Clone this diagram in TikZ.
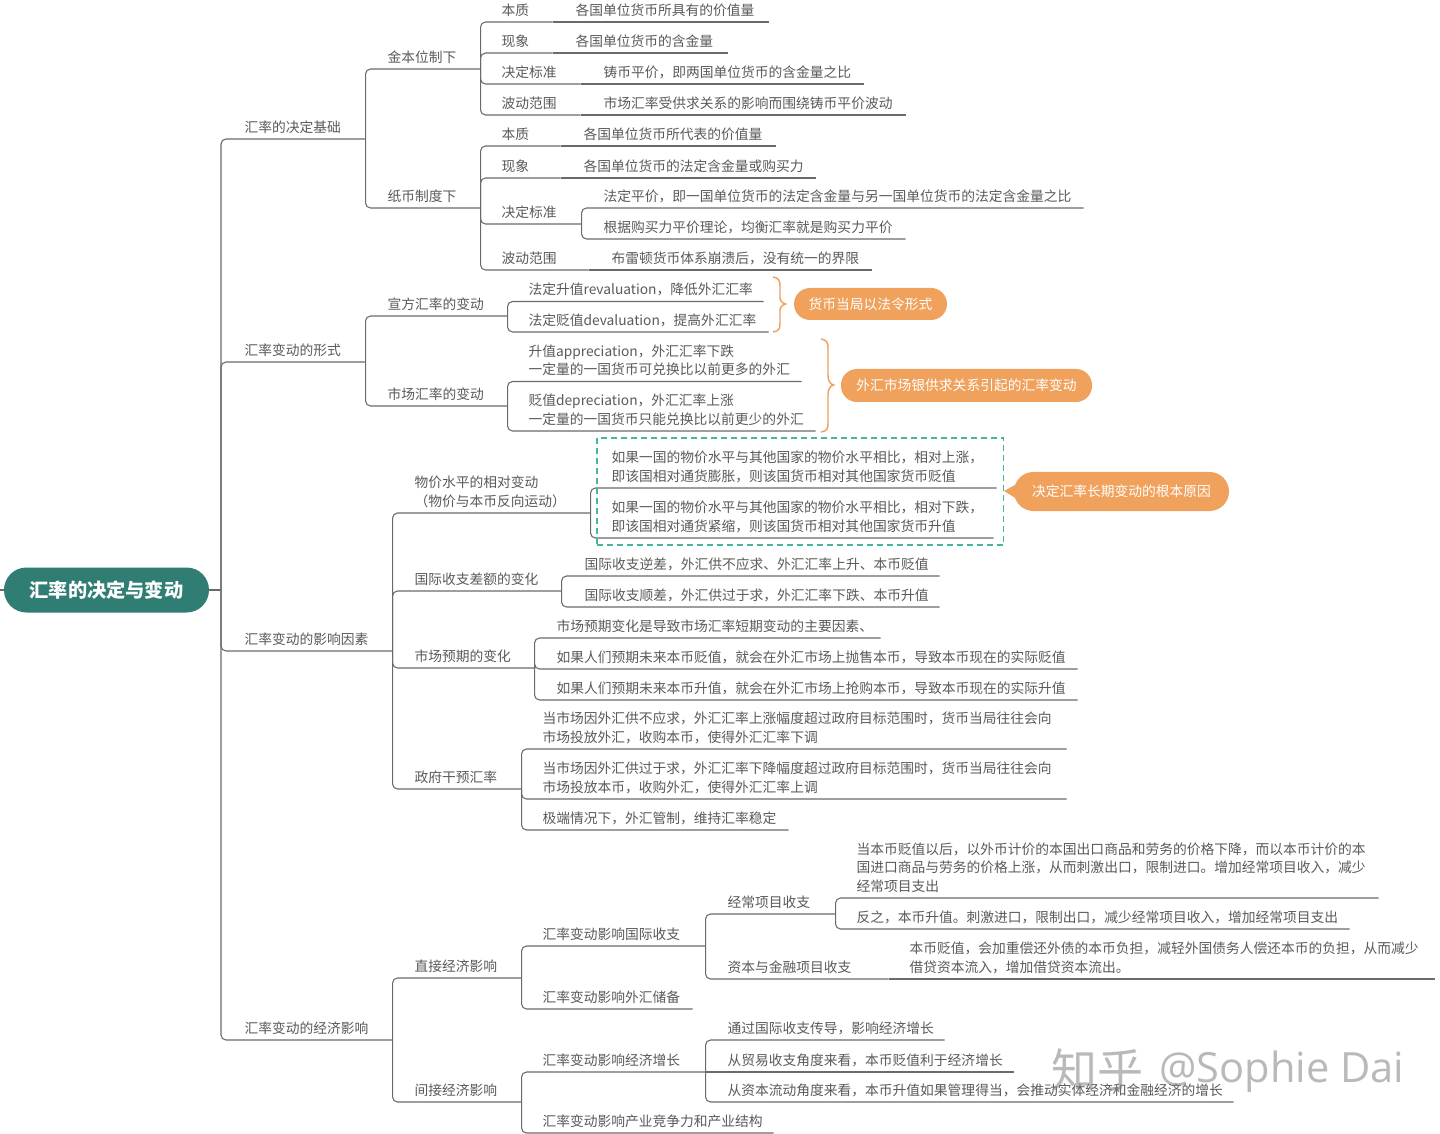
\documentclass[tikz,border=0pt]{standalone}
\usepackage{fontspec}
\setmainfont{Noto Sans CJK SC}
\newfontfamily\wmlatin{Open Sans}
\definecolor{ink}{HTML}{5A5A5A}
\definecolor{wire}{HTML}{6A6A6A}
\definecolor{rootgreen}{HTML}{2F7D73}
\definecolor{callout}{HTML}{F0A15C}
\definecolor{dashteal}{HTML}{45B5A0}
\tikzset{
  topic/.style={inner sep=0pt,anchor=south west,text=ink,text depth=5pt,
    font=\fontsize{10.32pt}{13.9pt}\selectfont},
  conn/.style={draw=wire,line width=0.8pt,rounded corners=3.75pt},
  pill/.style={fill=callout,text=white,rounded corners=12pt,inner sep=0pt,
    font=\fontsize{10.32pt}{13.9pt}\selectfont},
  brace/.style={draw=callout,line width=1.1pt},
  rootnode/.style={fill=rootgreen,text=white,rounded corners=16.8pt,inner sep=0pt,
    minimum width=153.75pt,minimum height=33.75pt,
    font=\fontsize{14.4pt}{16pt}\selectfont\bfseries},
  dashbox/.style={draw=dashteal,line width=1.1pt,dash pattern=on 4.5pt off 3pt,inner sep=0pt},
  wmark/.style={text=gray,opacity=0.55,inner sep=0pt}
}
% \topic{name}{x start}{x end}{y of rule}{x of text}{text}
\newcommand{\topic}[6]{%
  \pgfmathsetlengthmacro\mmW{(#3-#2)*0.75}%
  \pgfmathsetlengthmacro\mmI{(#5-#2-0.7)*0.75}%
  \node[topic] (#1) at (#2,#4) {\makebox[\mmW][l]{\hspace*{\mmI}\parbox[b]{900pt}{\raggedright #6}}};%
}
\newcommand{\mmturn}[2]{\draw[conn] (#1.south east) |- (#2.south east);}
\newcommand{\mmflat}[2]{\draw[conn] (#1.south east) -- (#2.south east);}
\begin{document}
\begin{tikzpicture}[x=0.75pt,y=-0.75pt]
\useasboundingbox (0,0) rectangle (1440,1134);
\fill[white] (0,0) rectangle (1440,1134);

% root
\node[rootnode] (root) at (106.5,590) {汇率的决定与变动};
\coordinate (rootleft) at (0,590);
\coordinate (rootj) at (221,590);
\draw[conn] (rootleft) -- (root.west);
\draw[conn] (root.east) -- (rootj);

% level 1
\topic{a}{221}{365}{139}{245}{汇率的决定基础}
\topic{b}{221}{365}{362}{245}{汇率变动的形式}
\topic{c}{221}{392}{651}{245}{汇率变动的影响因素}
\topic{d}{221}{392}{1040}{245}{汇率变动的经济影响}
\foreach \n in {a,b,c,d}{\draw[conn] (rootj) |- (\n.south east);}

% 金本位制下
\topic{a1}{365}{480}{69}{388}{金本位制下}
\topic{a2}{365}{480}{208}{388}{纸币制度下}
\mmturn{a}{a1}\mmturn{a}{a2}
\topic{a11}{480}{552}{22}{502}{本质}
\topic{a11x}{552}{768}{22}{576}{各国单位货币所具有的价值量}
\topic{a12}{480}{552}{53}{502}{现象}
\topic{a12x}{552}{727}{53}{576}{各国单位货币的含金量}
\topic{a13}{480}{580}{84}{502}{决定标准}
\topic{a13x}{580}{863}{84}{604}{铸币平价，即两国单位货币的含金量之比}
\topic{a14}{480}{580}{115}{502}{波动范围}
\topic{a14x}{580}{905}{115}{604}{市场汇率受供求关系的影响而围绕铸币平价波动}
\foreach \n in {a11,a12,a13,a14}{\mmturn{a1}{\n}\mmflat{\n}{\n x}}

% 纸币制度下
\topic{a21}{480}{560}{146}{502}{本质}
\topic{a21x}{560}{775}{146}{584}{各国单位货币所代表的价值量}
\topic{a22}{480}{560}{178}{502}{现象}
\topic{a22x}{560}{815}{178}{584}{各国单位货币的法定含金量或购买力}
\topic{a23}{480}{581}{224}{502}{决定标准}
\topic{a23x}{581}{1083}{208}{604}{法定平价，即一国单位货币的法定含金量与另一国单位货币的法定含金量之比}
\topic{a23y}{581}{905}{239}{604}{根据购买力平价理论，均衡汇率就是购买力平价}
\topic{a24}{480}{588}{270}{502}{波动范围}
\topic{a24x}{588}{871}{270}{612}{布雷顿货币体系崩溃后，没有统一的界限}
\foreach \n in {a21,a22,a24}{\mmturn{a2}{\n}\mmflat{\n}{\n x}}
\mmturn{a2}{a23}\mmturn{a23}{a23x}\mmturn{a23}{a23y}

% 汇率变动的形式
\topic{b1}{365}{507}{316}{388}{宣方汇率的变动}
\topic{b2}{365}{507}{406}{388}{市场汇率的变动}
\mmturn{b}{b1}\mmturn{b}{b2}
\topic{b11}{507}{763}{301.5}{529}{法定升值revaluation，降低外汇汇率}
\topic{b12}{507}{768}{332}{529}{法定贬值devaluation，提高外汇汇率}
\mmturn{b1}{b11}\mmturn{b1}{b12}
\topic{b21}{507}{801}{381.5}{529}{升值appreciation，外汇汇率下跌\\一定量的一国货币可兑换比以前更多的外汇}
\topic{b22}{507}{815}{431}{529}{贬值depreciation，外汇汇率上涨\\一定量的一国货币只能兑换比以前更少的外汇}
\mmturn{b2}{b21}\mmturn{b2}{b22}

% callouts and braces
\draw[brace] (773,277) .. controls (779,278) and (780,281) .. (780,286) -- (780,297) .. controls (780,301) and (782,303) .. (785.5,304) .. controls (782,305) and (780,307) .. (780,311) -- (780,323) .. controls (780,329) and (779,331) .. (773,332);
\node[pill,minimum width=114.75pt,minimum height=24pt] (p1) at (870.5,304) {货币当局以法令形式};
\draw[brace] (821,339) .. controls (827,340) and (828,343) .. (828,348) -- (828,375) .. controls (828,381) and (830,384) .. (833.6,385) .. controls (830,386) and (828,389) .. (828,395) -- (828,423) .. controls (828,429) and (827,431) .. (821,432);
\node[pill,minimum width=188.25pt,minimum height=24.75pt] (p2) at (966.5,385.5) {外汇市场银供求关系引起的汇率变动};

% 影响因素
\topic{c1}{392}{590}{513}{415}{物价水平的相对变动\\（物价与本币反向运动）}
\topic{c2}{392}{561}{591}{415}{国际收支差额的变化}
\topic{c3}{392}{534}{668}{415}{市场预期的变化}
\topic{c4}{392}{521}{789}{415}{政府干预汇率}
\foreach \n in {c1,c2,c3,c4}{\mmturn{c}{\n}}
\topic{c11}{590}{996}{488}{612}{如果一国的物价水平与其他国家的物价水平相比，相对上涨，\\即该国相对通货膨胀，则该国货币相对其他国家货币贬值}
\topic{c12}{590}{993}{538}{612}{如果一国的物价水平与其他国家的物价水平相比，相对下跌，\\即该国相对通货紧缩，则该国货币相对其他国家货币升值}
\mmturn{c1}{c11}\mmturn{c1}{c12}
\node[dashbox,minimum width=304.875pt,minimum height=80.25pt] (box) at (800.25,491.5) {};
\node[pill,minimum width=161.25pt,minimum height=29.25pt,rounded corners=14.6pt] (p3) at (1121.5,491.5) {决定汇率长期变动的根本原因};
\coordinate (p3tip) at (1004,491);
\fill[callout] (p3tip) -- ([xshift=3pt,yshift=6pt]p3.west) -- ([xshift=3pt,yshift=-6pt]p3.west) -- cycle;

\topic{c21}{561}{939}{576}{585}{国际收支逆差，外汇供不应求、外汇汇率上升、本币贬值}
\topic{c22}{561}{939}{607}{585}{国际收支顺差，外汇供过于求，外汇汇率下跌、本币升值}
\mmturn{c2}{c21}\mmturn{c2}{c22}
\topic{c31}{534}{880}{638}{557}{市场预期变化是导致市场汇率短期变动的主要因素、}
\topic{c32}{534}{1077}{669}{557}{如果人们预期未来本币贬值，就会在外汇市场上抛售本币，导致本币现在的实际贬值}
\topic{c33}{534}{1077}{700}{557}{如果人们预期未来本币升值，就会在外汇市场上抢购本币，导致本币现在的实际升值}
\foreach \n in {c31,c32,c33}{\mmturn{c3}{\n}}
\topic{c41}{521}{1066}{749}{543}{当市场因外汇供不应求，外汇汇率上涨幅度超过政府目标范围时，货币当局往往会向\\市场投放外汇，收购本币，使得外汇汇率下调}
\topic{c42}{521}{1066}{799}{543}{当市场因外汇供过于求，外汇汇率下降幅度超过政府目标范围时，货币当局往往会向\\市场投放本币，收购外汇，使得外汇汇率上调}
\topic{c43}{521}{788}{830}{543}{极端情况下，外汇管制，维持汇率稳定}
\foreach \n in {c41,c42,c43}{\mmturn{c4}{\n}}

% 经济影响
\topic{d1}{392}{521}{978}{415}{直接经济影响}
\topic{d2}{392}{521}{1102}{415}{间接经济影响}
\mmturn{d}{d1}\mmturn{d}{d2}
\topic{d11}{521}{705}{946}{543}{汇率变动影响国际收支}
\topic{d12}{521}{692}{1009}{543}{汇率变动影响外汇储备}
\mmturn{d1}{d11}\mmturn{d1}{d12}
\topic{d111}{705}{835}{914}{728}{经常项目收支}
\topic{d112}{705}{888}{979}{728}{资本与金融项目收支}
\mmturn{d11}{d111}\mmturn{d11}{d112}
\topic{d1111}{835}{1378}{898}{857}{当本币贬值以后，以外币计价的本国出口商品和劳务的价格下降，而以本币计价的本\\国进口商品与劳务的价格上涨，从而刺激出口，限制进口。增加经常项目收入，减少\\经常项目支出}
\topic{d1112}{835}{1349}{929}{857}{反之，本币升值。刺激进口，限制出口，减少经常项目收入，增加经常项目支出}
\mmturn{d111}{d1111}\mmturn{d111}{d1112}
\topic{d1121}{888}{1434}{979}{910}{本币贬值，会加重偿还外债的本币负担，减轻外国债务人偿还本币的负担，从而减少\\借贷资本流入，增加借贷资本流出。}
\mmflat{d112}{d1121}

\topic{d21}{521}{705}{1072}{543}{汇率变动影响经济增长}
\topic{d22}{521}{773}{1133}{543}{汇率变动影响产业竞争力和产业结构}
\mmturn{d2}{d21}\mmturn{d2}{d22}
\topic{d211}{705}{944}{1040}{728}{通过国际收支传导，影响经济增长}
\topic{d212}{705}{1013}{1072}{728}{从贸易收支角度来看，本币贬值利于经济增长}
\topic{d213}{705}{1233}{1102}{728}{从资本流动角度来看，本币升值如果管理得当，会推动实体经济和金融经济的增长}
\mmturn{d21}{d211}\mmflat{d21}{d212}\mmturn{d21}{d213}

% watermark
\node[wmark,font=\fontsize{34.5pt}{36pt}\selectfont] (wm1) at (1097,1070) {知乎};
\node[wmark,font=\wmlatin\fontsize{31.2pt}{36pt}\selectfont] (wm2) at (1282,1072) {@Sophie Dai};
\end{tikzpicture}
\end{document}
